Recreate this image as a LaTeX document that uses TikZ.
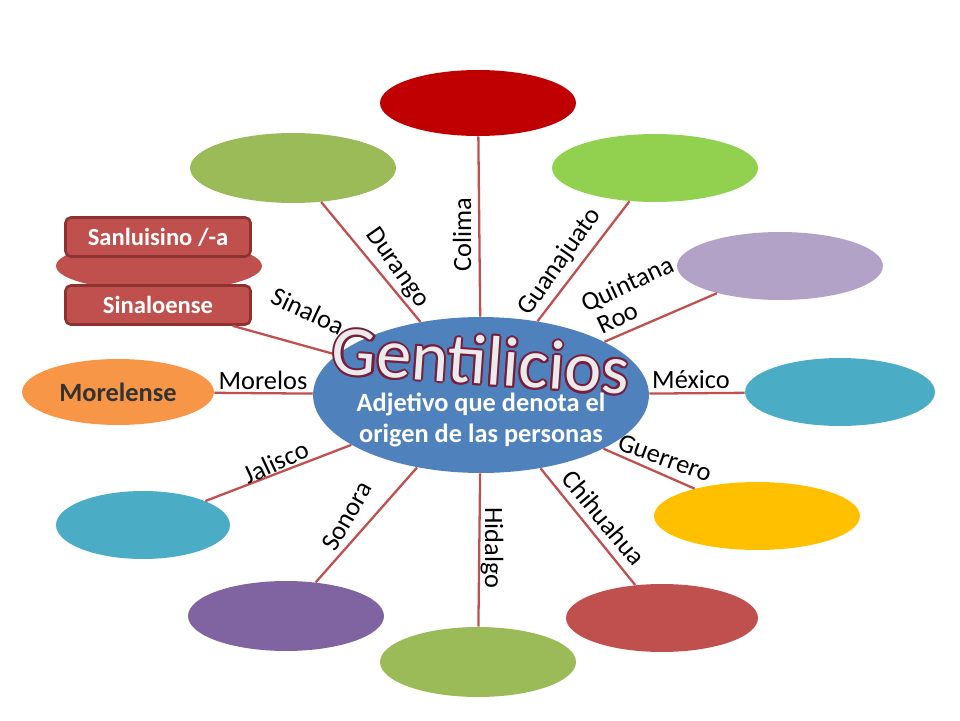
\documentclass[tikz,border=0pt]{standalone}
\usepackage{fontspec}
\setmainfont{Carlito}
\usetikzlibrary{shapes.geometric}
\begin{document}
\begin{tikzpicture}[x=0.02cm,y=-0.02cm,
  lnk/.style={line width=1.3pt,color={rgb,255:red,192;green,80;blue,77}},
  lab/.style={font=\fontsize{15}{15}\selectfont,inner sep=1pt},
  gen/.style={font=\fontsize{40}{40}\selectfont,rotate=-4},
  box/.style={rectangle,rounded corners=3pt,fill={rgb,255:red,192;green,80;blue,77},draw={rgb,255:red,140;green,50;blue,48},line width=1.5pt,minimum width=3.7cm,minimum height=0.78cm,text=white,font=\bfseries\fontsize{14}{14}\selectfont}]
\useasboundingbox (0,0) rectangle (960,720);
\definecolor{cblue}{RGB}{79,129,189}
\newcommand{\bubb}[6]{\node[ellipse,inner sep=0pt,minimum width=#3*0.04cm,minimum height=#4*0.04cm,fill=#5] (#6) at (#1,#2) {};}
\bubb{481}{395}{168}{78}{cblue}{c}
\bubb{478}{103}{98}{33}{{rgb,255:red,192;green,0;blue,0}}{n1}
\bubb{293}{168}{103}{35}{{rgb,255:red,155;green,187;blue,89}}{n2}
\bubb{655}{168}{103}{34}{{rgb,255:red,146;green,208;blue,80}}{n3}
\bubb{780}{266}{103}{34}{{rgb,255:red,178;green,162;blue,199}}{n4}
\bubb{840}{392}{95}{34}{{rgb,255:red,75;green,172;blue,198}}{n5}
\bubb{757}{516}{103}{34}{{rgb,255:red,255;green,192;blue,0}}{n6}
\bubb{662}{618}{96}{34}{{rgb,255:red,192;green,80;blue,77}}{n7}
\bubb{478}{662}{98}{35}{{rgb,255:red,155;green,187;blue,89}}{n8}
\bubb{286}{616}{98}{35}{{rgb,255:red,128;green,100;blue,162}}{n9}
\bubb{143}{525}{87}{34}{{rgb,255:red,75;green,172;blue,198}}{n10}
\bubb{118}{392}{96}{33}{{rgb,255:red,247;green,150;blue,70}}{n11}
\bubb{159}{266}{103}{25}{{rgb,255:red,192;green,80;blue,77}}{n12}
\node[box] (b1) at (158,237) {Sanluisino /-a};
\node[box] (b2) at (158,305) {Sinaloense};
\node[font=\bfseries\fontsize{15}{15}\selectfont,text=black!80] (t11) at (118,392) {Morelense};
\foreach \t in {n1,n2,n3,n4,n5,n6,n7,n8,n9,n10,n11} \draw[lnk] (c) -- (\t);
\draw[lnk] (c) -- (b2);
\foreach \dx/\dy in {-1.2/0,1.2/0,0/-1.2,0/1.2,-0.9/-0.9,0.9/0.9,-0.9/0.9,0.9/-0.9}
  \node[gen,text={rgb,255:red,120;green,30;blue,60}] at ([xshift=\dx pt,yshift=\dy pt]481,360) {Gentilicios};
\node[gen,text=white!92!black] (g) at (481,360) {Gentilicios};
\node[align=center,text=white,font=\bfseries\fontsize{15}{18}\selectfont] (sub) at (481,420) {Adjetivo que denota el\\origen de las personas};
\node[lab,rotate=90] (l1) at (462,235) {Colima};
\node[lab,rotate=-55] (l2) at (397,268) {Durango};
\node[lab,rotate=55] (l3) at (560,262) {Guanajuato};
\node[lab,rotate=25] (l4) at (628,285) {Quintana};
\node[lab,rotate=25] (l4b) at (618,318) {Roo};
\node[lab,rotate=-25] (l5) at (308,311) {Sinaloa};
\node[lab] (l6) at (263,380) {Morelos};
\node[lab] (l7) at (691,380) {México};
\node[lab,rotate=25] (l8) at (276,462) {Jalisco};
\node[lab,rotate=60] (l9) at (347,516) {Sonora};
\node[lab,rotate=-90] (l10) at (492,548) {Hidalgo};
\node[lab,rotate=-50] (l11) at (604,518) {Chihuahua};
\node[lab,rotate=-20] (l12) at (665,458) {Guerrero};
\end{tikzpicture}
\end{document}
